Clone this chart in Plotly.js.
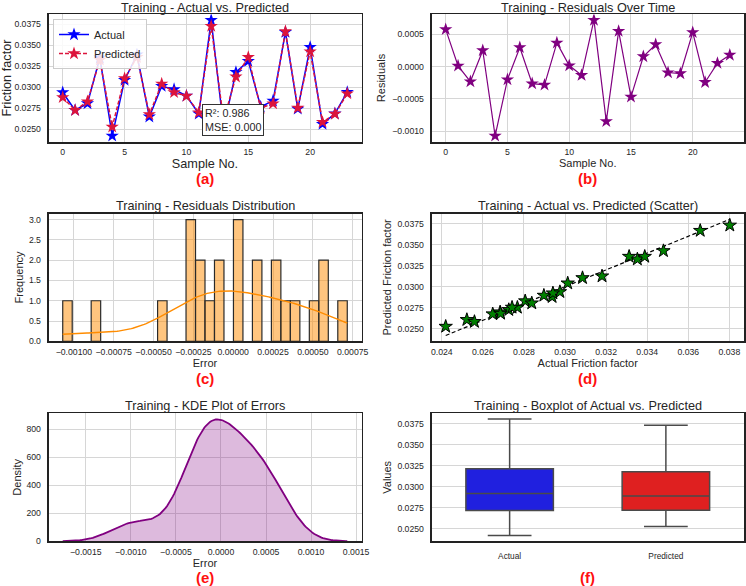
<!DOCTYPE html>
<html>
<head>
<meta charset="utf-8">
<script src="https://cdn.plot.ly/plotly-3.0.1.min.js"></script>
<style>
  html, body { margin: 0; padding: 0; background: #ffffff; }
  #chart { width: 746px; height: 586px; }
</style>
</head>
<body>
<div id="chart"></div>
<script>
// ---- data -------------------------------------------------------------
const sampleNo = [0, 1, 2, 3, 4, 5, 6, 7, 8, 9, 10, 11, 12, 13, 14, 15, 16, 17, 18, 19, 20, 21, 22, 23];

const actual = [
  0.02937, 0.02726, 0.02806, 0.03352, 0.02419, 0.03085, 0.03388, 0.02648,
  0.03013, 0.02975, 0.02897, 0.02684, 0.03802, 0.02522, 0.03180, 0.03312,
  0.02768, 0.02838, 0.03658, 0.02742, 0.03479, 0.02559, 0.02686, 0.02941
];

const predicted = [
  0.028798, 0.027250, 0.028292, 0.033273, 0.025260, 0.031051, 0.033586, 0.026743,
  0.030414, 0.029385, 0.028955, 0.026974, 0.037304, 0.026065, 0.031255, 0.033589,
  0.027525, 0.028040, 0.036673, 0.027528, 0.034264, 0.025832, 0.0268085, 0.029232
];

const boxLabels = ['Actual', 'Predicted'];
const fitStats = ['R²: 0.986', 'MSE: 0.000'];
const histBins = 30;

// ---- derived series ---------------------------------------------------
const residuals = actual.map((a, i) => a - predicted[i]);

function padRange(lo, hi) {
  const p = 0.05 * (hi - lo);
  return [lo - p, hi + p];
}

// histogram counts (last bin closed on the right)
const rLo = Math.min(...residuals), rHi = Math.max(...residuals);
const binW = (rHi - rLo) / histBins;
const counts = new Array(histBins).fill(0);
residuals.forEach(r => {
  let k = Math.floor((r - rLo) / binW);
  if (k >= histBins) k = histBins - 1;
  if (k < 0) k = 0;
  counts[k]++;
});
const barX = [], barY = [];
counts.forEach((c, k) => { if (c > 0) { barX.push(rLo + (k + 0.5) * binW); barY.push(c); } });

// gaussian KDE, Scott bandwidth
const n = residuals.length;
const mean = residuals.reduce((s, v) => s + v, 0) / n;
const sd = Math.sqrt(residuals.reduce((s, v) => s + (v - mean) ** 2, 0) / (n - 1));
const bw = sd * Math.pow(n, -1 / 5);
function kdeAt(x) {
  let s = 0;
  residuals.forEach(d => { const z = (x - d) / bw; s += Math.exp(-0.5 * z * z); });
  return s / (n * bw * Math.sqrt(2 * Math.PI));
}
function grid(a, b, m) { const g = []; for (let i = 0; i < m; i++) g.push(a + (b - a) * i / (m - 1)); return g; }

const kdeX = grid(rLo - 3 * bw, rHi + 3 * bw, 200);
const kdeY = kdeX.map(kdeAt);
const histKdeX = grid(rLo, rHi, 200);
const histKdeY = histKdeX.map(x => kdeAt(x) * n * binW);

const allVals = actual.concat(predicted);
const vLo = Math.min(...allVals), vHi = Math.max(...allVals);
const aLo = Math.min(...actual), aHi = Math.max(...actual);

// box statistics: linear-interpolated quartiles, 1.5*IQR whiskers
function quantile(sorted, p) {
  const pos = p * (sorted.length - 1), lo = Math.floor(pos), hi = Math.ceil(pos);
  return sorted[lo] + (sorted[hi] - sorted[lo]) * (pos - lo);
}
function boxStats(vals) {
  const s = vals.slice().sort((a, b) => a - b);
  const q1 = quantile(s, 0.25), med = quantile(s, 0.5), q3 = quantile(s, 0.75);
  const iqr = q3 - q1;
  const lf = Math.min(...s.filter(v => v >= q1 - 1.5 * iqr));
  const uf = Math.max(...s.filter(v => v <= q3 + 1.5 * iqr));
  return { q1, med, q3, lf, uf };
}
const boxA = boxStats(actual), boxP = boxStats(predicted);

// ---- layout helpers ---------------------------------------------------
const W = 746, H = 586;
const px = x => x / W;
const py = y => 1 - y / H;
const colL = [px(48.5), px(361.5)], colR = [px(431.5), px(744)];
const row1 = [py(141.7), py(14.3)], row2 = [py(341.3), py(213.5)], row3 = [py(541.3), py(413.3)];

const FONT = 'Liberation Sans, Arial, Helvetica, sans-serif';
const INK = '#262626';
const tickFont = { family: FONT, size: 8.7, color: INK };

function axis(extra) {
  return Object.assign({
    showline: true, mirror: true, linecolor: '#222222', linewidth: 1.8,
    showgrid: true, gridcolor: '#d6d6d6', gridwidth: 1,
    zeroline: false, ticks: '', ticklabelstandoff: 4,
    tickfont: tickFont, automargin: false, fixedrange: true
  }, extra);
}
function xaxis(extra) { return axis(Object.assign({ ticklabelstandoff: 1 }, extra)); }
function ttl(text, size, standoff) {
  return { text: text, font: { family: FONT, size: size, color: INK }, standoff: standoff };
}

// ---- traces -----------------------------------------------------------
const traces = [
  // (a) actual vs predicted
  {
    x: sampleNo, y: actual, name: 'Actual', type: 'scatter', mode: 'lines+markers',
    line: { color: '#0000ff', width: 1.5 },
    marker: { symbol: 'star', size: 10, color: '#0000ff', line: { width: 0 } },
    xaxis: 'x', yaxis: 'y'
  },
  {
    x: sampleNo, y: predicted, name: 'Predicted', type: 'scatter', mode: 'lines+markers',
    line: { color: '#dc143c', width: 1.5, dash: '4px,2px' },
    marker: { symbol: 'star', size: 10, color: '#dc143c', line: { width: 0 } },
    xaxis: 'x', yaxis: 'y'
  },
  // (b) residuals over time
  {
    x: sampleNo, y: residuals, type: 'scatter', mode: 'lines+markers', showlegend: false,
    line: { color: '#800080', width: 1.2 },
    marker: { symbol: 'star', size: 10, color: '#800080', line: { width: 0 } },
    xaxis: 'x2', yaxis: 'y2'
  },
  // (c) residual histogram + kde
  {
    x: barX, y: barY, type: 'bar', width: binW, showlegend: false,
    marker: { color: 'rgba(255,140,0,0.5)', line: { color: '#2a2a2a', width: 1.2 } },
    xaxis: 'x3', yaxis: 'y3'
  },
  {
    x: histKdeX, y: histKdeY, type: 'scatter', mode: 'lines', showlegend: false,
    line: { color: '#ff8c00', width: 1.4 },
    xaxis: 'x3', yaxis: 'y3'
  },
  // (d) scatter with identity line
  {
    x: [aLo, aHi], y: [aLo, aHi], type: 'scatter', mode: 'lines', showlegend: false,
    line: { color: '#000000', width: 1.2, dash: '4px,2.5px' },
    xaxis: 'x4', yaxis: 'y4'
  },
  {
    x: actual, y: predicted, type: 'scatter', mode: 'markers', showlegend: false,
    marker: { symbol: 'star', size: 10, color: '#008000', line: { color: '#000000', width: 1 } },
    xaxis: 'x4', yaxis: 'y4'
  },
  // (e) KDE of errors
  {
    x: kdeX, y: kdeY, type: 'scatter', mode: 'lines', fill: 'tozeroy', showlegend: false,
    fillcolor: 'rgba(128,0,128,0.27)', line: { color: '#800080', width: 1.8 },
    xaxis: 'x5', yaxis: 'y5'
  },
  // (f) boxplots
  {
    type: 'box', name: boxLabels[0], x: [boxLabels[0]], showlegend: false,
    q1: [boxA.q1], median: [boxA.med], q3: [boxA.q3], lowerfence: [boxA.lf], upperfence: [boxA.uf],
    fillcolor: 'rgb(32,32,223)', line: { color: '#4a4a4a', width: 1.5 },
    whiskerwidth: 0.5, xaxis: 'x6', yaxis: 'y6'
  },
  {
    type: 'box', name: boxLabels[1], x: [boxLabels[1]], showlegend: false,
    q1: [boxP.q1], median: [boxP.med], q3: [boxP.q3], lowerfence: [boxP.lf], upperfence: [boxP.uf],
    fillcolor: 'rgb(223,32,32)', line: { color: '#4a4a4a', width: 1.5 },
    whiskerwidth: 0.5, xaxis: 'x6', yaxis: 'y6'
  }
];

const kdePeak = Math.max(...kdeY);

// ---- annotations ------------------------------------------------------
function panelTitle(text, col, yPx) {
  return {
    text: text, xref: 'paper', yref: 'paper', x: (col[0] + col[1]) / 2, y: py(yPx),
    xanchor: 'center', yanchor: 'middle', showarrow: false,
    font: { family: FONT, size: 12.7, color: INK }
  };
}
function panelTag(text, col, yPx) {
  return {
    text: '<b>' + text + '</b>', xref: 'paper', yref: 'paper', x: (col[0] + col[1]) / 2, y: py(yPx),
    xanchor: 'center', yanchor: 'middle', showarrow: false,
    font: { family: FONT, size: 15, color: '#ff1010' }
  };
}

const annotations = [
  panelTitle('Training - Actual vs. Predicted', colL, 7.5),
  panelTitle('Training - Residuals Over Time', colR, 7.5),
  panelTitle('Training - Residuals Distribution', colL, 206),
  panelTitle('Training - Actual vs. Predicted (Scatter)', colR, 206),
  panelTitle('Training - KDE Plot of Errors', colL, 405.5),
  panelTitle('Training - Boxplot of Actual vs. Predicted', colR, 405.5),
  panelTag('(a)', colL, 178), panelTag('(b)', colR, 178),
  panelTag('(c)', colL, 378), panelTag('(d)', colR, 378),
  panelTag('(e)', colL, 577), panelTag('(f)', colR, 577),
  {
    text: fitStats.join('<br>'), xref: 'paper', yref: 'paper', x: px(202), y: py(135.5),
    xanchor: 'left', yanchor: 'bottom', align: 'left', showarrow: false,
    bgcolor: '#ffffff', bordercolor: '#333333', borderwidth: 1, borderpad: 2,
    font: { family: FONT, size: 10.8, color: INK }
  }
];

// ---- layout -----------------------------------------------------------
const layout = {
  width: W, height: H, margin: { l: 0, r: 0, t: 0, b: 0 },
  paper_bgcolor: '#ffffff', plot_bgcolor: '#ffffff',
  font: { family: FONT, color: INK },
  showlegend: true,
  legend: {
    x: px(53), y: py(19), xanchor: 'left', yanchor: 'top',
    bgcolor: 'rgba(255,255,255,0.85)', bordercolor: '#cccccc', borderwidth: 1,
    font: { family: FONT, size: 11, color: INK }, tracegroupgap: 0, itemwidth: 30
  },
  boxgap: 0.2,
  xaxis: xaxis({ domain: colL, anchor: 'y', range: padRange(0, 23), tickvals: [0, 5, 10, 15, 20],
    title: ttl('Sample No.', 12.7, 0) }),
  yaxis: axis({ domain: row1, anchor: 'x', range: padRange(vLo, vHi), dtick: 0.0025, tick0: 0.025,
    tickformat: '.4f', title: ttl('Friction factor', 12.7, 4) }),
  xaxis2: xaxis({ domain: colR, anchor: 'y2', range: padRange(0, 23), tickvals: [0, 5, 10, 15, 20],
    title: ttl('Sample No.', 11, 0) }),
  yaxis2: axis({ domain: row1, anchor: 'x2', range: padRange(rLo, rHi), dtick: 0.0005, tick0: 0,
    tickformat: '.4f', title: ttl('Residuals', 11, 4) }),
  xaxis3: xaxis({ domain: colL, anchor: 'y3', range: padRange(rLo, rHi), dtick: 0.00025, tick0: 0,
    tickformat: '.5f', title: ttl('Error', 11, 0) }),
  yaxis3: axis({ domain: row2, anchor: 'x3', range: [0, 1.05 * Math.max(...counts)], dtick: 0.5, tick0: 0,
    tickformat: '.1f', title: ttl('Frequency', 11, 3) }),
  xaxis4: xaxis({ domain: colR, anchor: 'y4', range: padRange(aLo, aHi), dtick: 0.002, tick0: 0.024,
    tickformat: '.3f', title: ttl('Actual Friction factor', 11, 0) }),
  yaxis4: axis({ domain: row2, anchor: 'x4', range: padRange(Math.min(aLo, vLo), Math.max(aHi, vHi)),
    dtick: 0.0025, tick0: 0.025, tickformat: '.4f', title: ttl('Predicted Friction factor', 11, 3) }),
  xaxis5: xaxis({ domain: colL, anchor: 'y5', range: padRange(kdeX[0], kdeX[kdeX.length - 1]),
    dtick: 0.0005, tick0: 0, tickformat: '.4f', title: ttl('Error', 11, 0) }),
  yaxis5: axis({ domain: row3, anchor: 'x5', range: [0, 1.05 * kdePeak], dtick: 200, tick0: 0,
    title: ttl('Density', 11, 3) }),
  xaxis6: xaxis({ domain: colR, anchor: 'y6', type: 'category', range: [-0.5, 1.5], showgrid: false,
    ticklabelstandoff: 6, tickfont: { family: FONT, size: 8.3, color: INK } }),
  yaxis6: axis({ domain: row3, anchor: 'x6', range: padRange(vLo, vHi), dtick: 0.0025, tick0: 0.025,
    tickformat: '.4f', title: ttl('Values', 11, 3) }),
  annotations: annotations
};

Plotly.newPlot('chart', traces, layout, { displayModeBar: false, staticPlot: true });
</script>
</body>
</html>
